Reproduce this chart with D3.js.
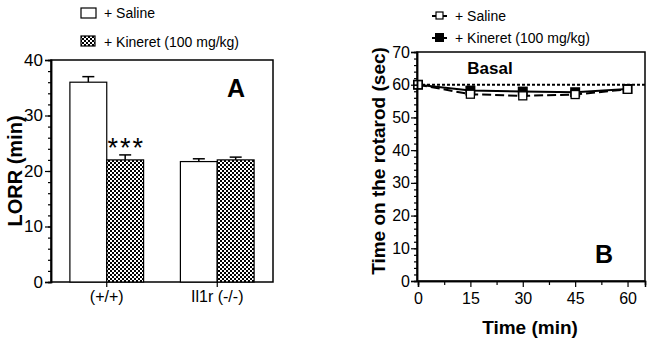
<!DOCTYPE html>
<html>
<head>
<meta charset="utf-8">
<script src="https://cdn.jsdelivr.net/npm/d3@7"></script>
<style>
  body { margin: 0; background: #fff; }
  svg text { font-family: "Liberation Sans", Arial, sans-serif; fill: #000; }
</style>
</head>
<body>
<div id="chart"></div>
<script>
// Panel A data: LORR (min)
var groups = ["(+/+)", "Il1r (-/-)"];
var salineLorr = [36.0, 21.7];
var salineLorrErr = [1.0, 0.5];
var kineretLorr = [22.0, 22.0];
var kineretLorrErr = [0.9, 0.5];

// Panel B data: time on rotarod (sec)
var times = [0, 15, 30, 45, 60];
var salineRotarod = [60.0, 57.1, 56.6, 57.0, 58.6];
var kineretRotarod = [60.0, 58.2, 57.9, 57.7, 58.7];
var basal = 60;

var svg = d3.select("#chart").append("svg")
  .attr("width", 654)
  .attr("height", 345);

// checkerboard pattern for Kineret bars
var pat = svg.append("defs").append("pattern")
  .attr("id", "checker")
  .attr("patternUnits", "userSpaceOnUse")
  .attr("width", 4).attr("height", 4);
pat.append("rect").attr("width", 4).attr("height", 4).attr("fill", "#fff");
pat.append("rect").attr("width", 2).attr("height", 2).attr("fill", "#000");
pat.append("rect").attr("x", 2).attr("y", 2).attr("width", 2).attr("height", 2).attr("fill", "#000");

function styleAxis(g) {
  g.selectAll(".domain").attr("stroke", "#000").attr("stroke-width", 1.5);
  g.selectAll(".tick line").attr("stroke", "#000").attr("stroke-width", 1.2);
  g.selectAll(".tick text").style("font-size", "17px").attr("fill", "#000");
}

// ---------------- Panel A ----------------
var a = {left: 51, right: 273, top: 60, bottom: 282};

var xA = d3.scaleBand()
  .domain(groups)
  .range([a.left, a.right])
  .paddingInner(0.333)
  .paddingOuter(0.171);
var yA = d3.scaleLinear().domain([0, 40]).range([a.bottom, a.top]);

// frame
svg.append("rect")
  .attr("x", a.left).attr("y", a.top)
  .attr("width", a.right - a.left).attr("height", a.bottom - a.top)
  .attr("fill", "none").attr("stroke", "#000").attr("stroke-width", 1.5);

var bw = xA.bandwidth() / 2;
var barsA = [
  {vals: salineLorr, errs: salineLorrErr, off: 0, fill: "#fff"},
  {vals: kineretLorr, errs: kineretLorrErr, off: 1, fill: "url(#checker)"}
];
barsA.forEach(function(s) {
  var d = groups.map(function(g, i) { return {g: g, v: s.vals[i], e: s.errs[i]}; });
  svg.selectAll(null).data(d).enter().append("line")
    .attr("x1", function(d) { return xA(d.g) + bw * s.off + bw / 2; })
    .attr("x2", function(d) { return xA(d.g) + bw * s.off + bw / 2; })
    .attr("y1", function(d) { return yA(d.v); })
    .attr("y2", function(d) { return yA(d.v + d.e); })
    .attr("stroke", "#000").attr("stroke-width", 1.5);
  svg.selectAll(null).data(d).enter().append("line")
    .attr("x1", function(d) { return xA(d.g) + bw * s.off + bw / 2 - 6; })
    .attr("x2", function(d) { return xA(d.g) + bw * s.off + bw / 2 + 6; })
    .attr("y1", function(d) { return yA(d.v + d.e); })
    .attr("y2", function(d) { return yA(d.v + d.e); })
    .attr("stroke", "#000").attr("stroke-width", 1.5);
  svg.selectAll(null).data(d).enter().append("rect")
    .attr("x", function(d) { return xA(d.g) + bw * s.off; })
    .attr("y", function(d) { return yA(d.v); })
    .attr("width", bw)
    .attr("height", function(d) { return yA(0) - yA(d.v); })
    .attr("fill", s.fill).attr("stroke", "#000").attr("stroke-width", 1.2);
});

// significance stars
svg.append("text")
  .attr("x", xA(groups[0]) + bw * 1.5 + 1)
  .attr("y", yA(kineretLorr[0] + kineretLorrErr[0]) + 2)
  .attr("text-anchor", "middle")
  .style("font-size", "27px")
  .style("letter-spacing", "2px")
  .text("***");

// axes A
var yAxisA = svg.append("g")
  .attr("transform", "translate(" + a.left + ",0)")
  .call(d3.axisLeft(yA).tickValues([0, 10, 20, 30, 40]).tickSize(6).tickPadding(2));
svg.append("g")
  .attr("transform", "translate(" + a.left + ",0)")
  .call(d3.axisLeft(yA).tickValues(d3.range(0, 41, 2)).tickSize(3).tickFormat(""))
  .call(styleAxis);
styleAxis(yAxisA);

var xAxisA = svg.append("g")
  .attr("transform", "translate(0," + a.bottom + ")")
  .call(d3.axisBottom(xA).tickSize(5).tickPadding(4));
xAxisA.selectAll(".tick line").attr("transform", function(d) { return "translate(" + (bw - xA.bandwidth() / 2) + ",0)"; });
xAxisA.selectAll(".tick text").attr("dx", bw - xA.bandwidth() / 2);
styleAxis(xAxisA);
xAxisA.selectAll(".tick text").style("font-size", "16px");
xAxisA.select(".domain").remove();

svg.append("text")
  .attr("transform", "translate(22," + ((a.top + a.bottom) / 2) + ") rotate(-90)")
  .attr("text-anchor", "middle")
  .style("font-size", "20px").style("font-weight", "bold")
  .text("LORR (min)");

svg.append("text")
  .attr("x", 236).attr("y", 97)
  .attr("text-anchor", "middle")
  .style("font-size", "25px").style("font-weight", "bold")
  .text("A");

// legend A
svg.append("rect").attr("x", 81).attr("y", 8).attr("width", 15).attr("height", 10)
  .attr("fill", "#fff").attr("stroke", "#000").attr("stroke-width", 1.2);
svg.append("text").attr("x", 104).attr("y", 18).style("font-size", "14px").text("+ Saline");
svg.append("rect").attr("x", 81).attr("y", 36).attr("width", 14).attr("height", 10)
  .attr("fill", "url(#checker)").attr("stroke", "#000").attr("stroke-width", 1.2);
svg.append("text").attr("x", 104).attr("y", 47).style("font-size", "14px").text("+ Kineret (100 mg/kg)");

// ---------------- Panel B ----------------
var b = {left: 417, right: 645, top: 52, bottom: 281};
var xB = d3.scaleLinear().domain([0, 65]).range([418, 645]);
var yB = d3.scaleLinear().domain([0, 70]).range([b.bottom, b.top]);

svg.append("rect")
  .attr("x", b.left).attr("y", b.top)
  .attr("width", b.right - b.left).attr("height", b.bottom - b.top)
  .attr("fill", "none").attr("stroke", "#000").attr("stroke-width", 1.5);

// basal dotted line
svg.append("line")
  .attr("x1", b.left).attr("x2", b.right)
  .attr("y1", yB(basal)).attr("y2", yB(basal))
  .attr("stroke", "#000").attr("stroke-width", 2).attr("stroke-dasharray", "3 2");

svg.append("text")
  .attr("x", 490).attr("y", 74)
  .attr("text-anchor", "middle")
  .style("font-size", "17px").style("font-weight", "bold")
  .text("Basal");

var lineB = d3.line()
  .x(function(d) { return xB(d.t); })
  .y(function(d) { return yB(d.v); });

var salineData = times.map(function(t, i) { return {t: t, v: salineRotarod[i]}; });
var kineretData = times.map(function(t, i) { return {t: t, v: kineretRotarod[i]}; });

svg.append("path").datum(salineData)
  .attr("d", lineB).attr("fill", "none")
  .attr("stroke", "#000").attr("stroke-width", 2).attr("stroke-dasharray", "9 4");
svg.append("path").datum(kineretData)
  .attr("d", lineB).attr("fill", "none")
  .attr("stroke", "#000").attr("stroke-width", 2);

svg.selectAll(null).data(kineretData).enter().append("rect")
  .attr("x", function(d) { return xB(d.t) - 5; })
  .attr("y", function(d) { return yB(d.v) - 5; })
  .attr("width", 10).attr("height", 10)
  .attr("fill", "#000");
svg.selectAll(null).data(salineData).enter().append("rect")
  .attr("x", function(d) { return xB(d.t) - 4; })
  .attr("y", function(d) { return yB(d.v) - 4; })
  .attr("width", 8).attr("height", 8)
  .attr("fill", "#fff").attr("stroke", "#000").attr("stroke-width", 1.3);

// axes B
var yAxisB = svg.append("g")
  .attr("transform", "translate(" + b.left + ",0)")
  .call(d3.axisLeft(yB).tickValues(d3.range(0, 71, 10)).tickSize(6).tickPadding(1));
svg.append("g")
  .attr("transform", "translate(" + b.left + ",0)")
  .call(d3.axisLeft(yB).tickValues(d3.range(0, 71, 2)).tickSize(3).tickFormat(""))
  .call(styleAxis);
styleAxis(yAxisB);
yAxisB.selectAll(".tick text").style("font-size", "16px");

var xAxisB = svg.append("g")
  .attr("transform", "translate(0," + b.bottom + ")")
  .call(d3.axisBottom(xB).tickValues(times).tickSize(6).tickPadding(6));
svg.append("g")
  .attr("transform", "translate(0," + b.bottom + ")")
  .call(d3.axisBottom(xB).tickValues([7.5, 22.5, 37.5, 52.5]).tickSize(4).tickFormat(""))
  .call(styleAxis);
styleAxis(xAxisB);
xAxisB.selectAll(".tick text").style("font-size", "16px");

svg.append("text")
  .attr("transform", "translate(385," + 161 + ") rotate(-90)")
  .attr("text-anchor", "middle")
  .style("font-size", "19px").style("font-weight", "bold")
  .text("Time on the rotarod (sec)");

svg.append("text")
  .attr("x", 530).attr("y", 334)
  .attr("text-anchor", "middle")
  .style("font-size", "19px").style("font-weight", "bold")
  .text("Time (min)");

svg.append("text")
  .attr("x", 604).attr("y", 263)
  .attr("text-anchor", "middle")
  .style("font-size", "25px").style("font-weight", "bold")
  .text("B");

// legend B
var legB = [
  {label: "+ Saline", y: 21, filled: false},
  {label: "+ Kineret (100 mg/kg)", y: 43, filled: true}
];
legB.forEach(function(l) {
  svg.append("line").attr("x1", 432).attr("x2", 447).attr("y1", l.y - 5).attr("y2", l.y - 5)
    .attr("stroke", "#000").attr("stroke-width", 2);
  if (l.filled) {
    svg.append("rect").attr("x", 435).attr("y", l.y - 10).attr("width", 9).attr("height", 9).attr("fill", "#000");
  } else {
    svg.append("rect").attr("x", 436).attr("y", l.y - 9).attr("width", 7).attr("height", 7)
      .attr("fill", "#fff").attr("stroke", "#000").attr("stroke-width", 1.2);
  }
  svg.append("text").attr("x", 455).attr("y", l.y).style("font-size", "14px").text(l.label);
});
</script>
</body>
</html>
